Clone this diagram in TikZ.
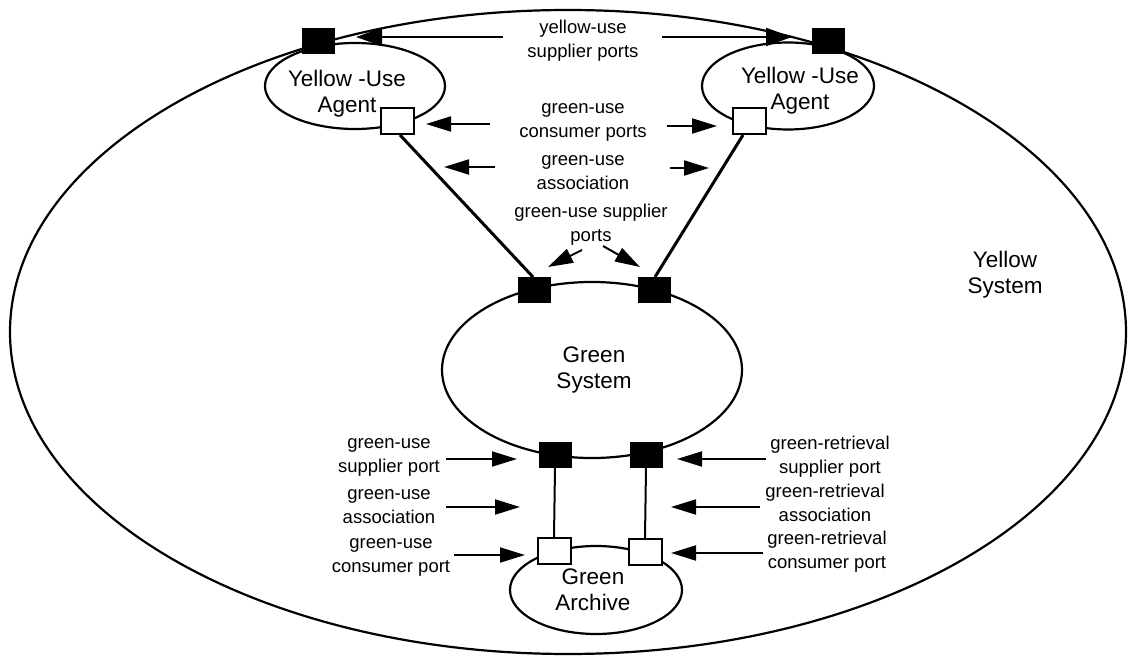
\documentclass[tikz,border=0pt]{standalone}
\usepackage{fontspec}
\setmainfont{Liberation Sans}
\usetikzlibrary{shapes.geometric,arrows.meta}
\begin{document}
\begin{tikzpicture}[x=1pt,y=-1pt,
  line width=2pt,
  ell/.style={draw,ellipse,inner sep=0pt,line width=2.2pt},
  big/.style={font=\fontsize{22.5}{26}\selectfont,align=center,inner sep=0pt},
  lab/.style={font=\fontsize{18.5}{24}\selectfont,align=center,inner sep=0pt},
  bport/.style={draw,fill=black,minimum width=32pt,minimum height=25pt,inner sep=0pt,line width=1pt},
  wport/.style={draw,fill=white,minimum width=33pt,minimum height=26pt,inner sep=0pt,line width=2pt},
  arr/.style={-{Triangle[length=25pt,width=15pt]},line width=2pt},
  arrb/.style={-{Triangle[length=26pt,width=18pt]},line width=2pt},
  link/.style={line width=3pt},
  vlink/.style={line width=2pt}]
\useasboundingbox (0,0) rectangle (1128,660);
% ellipses
\node[ell,minimum width=1116pt,minimum height=644pt] (ys) at (568,332) {};
\node[ell,minimum width=180pt,minimum height=86pt] (ua) at (355,86) {};
\node[ell,minimum width=172pt,minimum height=87pt] (ub) at (788,86) {};
\node[ell,minimum width=300pt,minimum height=176pt] (gs) at (592,370) {};
\node[ell,minimum width=172pt,minimum height=88pt] (ga) at (596,590) {};
% ports
\node[bport] (pa) at (318,41) {};
\node[bport] (pb) at (828,41) {};
\node[wport] (ca) at (397,121) {};
\node[wport] (cb) at (749,121) {};
\node[bport] (s1) at (534,290) {};
\node[bport] (s2) at (654,290) {};
\node[bport] (s3) at (555,455) {};
\node[bport] (s4) at (646,455) {};
\node[wport] (c3) at (554,551) {};
\node[wport] (c4) at (645,552) {};
% links (end on the port borders)
\draw[link] ([xshift=3pt]ca.south) -- ([xshift=-1pt]s1.north);
\draw[link] ([xshift=-6pt]cb.south) -- ([xshift=1pt]s2.north);
\draw[vlink] (s3.south) -- (c3.north);
\draw[vlink] (s4.south) -- (c4.north);
% arrow ends
\coordinate (t1) at (503,37);  \coordinate (h1) at (356,37);
\coordinate (t2) at (662,37);  \coordinate (h2) at (792,37);
\coordinate (t3) at (490,124); \coordinate (h3) at (426,124);
\coordinate (t4) at (667,126); \coordinate (h4) at (717,126);
\coordinate (t5) at (495,167); \coordinate (h5) at (444,167);
\coordinate (t6) at (670,168); \coordinate (h6) at (709,168);
\coordinate (t7) at (582,250); \coordinate (h7) at (548,267);
\coordinate (t8) at (603,246); \coordinate (h8) at (640,267);
\coordinate (t9) at (446,459); \coordinate (h9) at (517,459);
\coordinate (t10) at (446,507); \coordinate (h10) at (520,507);
\coordinate (t11) at (454,555); \coordinate (h11) at (525,555);
\coordinate (t12) at (766,459); \coordinate (h12) at (677,459);
\coordinate (t13) at (760,507); \coordinate (h13) at (671,507);
\coordinate (t14) at (763,553); \coordinate (h14) at (671,553);
\draw[arrb] (t1) -- (h1);
\draw[arrb] (t2) -- (h2);
\foreach \i in {3,...,14} {\draw[arr] (t\i) -- (h\i);}
% texts
\node[big] (tua) at (347,94) {Yellow -Use\\Agent};
\node[big] (tub) at (800,91) {Yellow -Use\\Agent};
\node[big] (tgs) at (594,370) {Green\\System};
\node[big] (tga) at (593,590) {Green\\Archive};
\node[big] (tys) at (1005,275) {Yellow\\System};
\node[lab] (l1) at (583,41) {yellow-use\\supplier ports};
\node[lab] (l2) at (583,122) {green-use\\consumer ports};
\node[lab] (l3) at (583,173) {green-use\\association};
\node[lab] (l4) at (591,225) {green-use supplier\\ports};
\node[lab] (l5) at (389,457) {green-use\\supplier port};
\node[lab] (l6) at (389,507) {green-use\\association};
\node[lab] (l7) at (391,557) {green-use\\consumer port};
\node[lab] (l8) at (830,457) {green-retrieval\\supplier port};
\node[lab] (l9) at (825,503) {green-retrieval\\association};
\node[lab] (l10) at (827,552) {green-retrieval\\consumer port};
\end{tikzpicture}
\end{document}
